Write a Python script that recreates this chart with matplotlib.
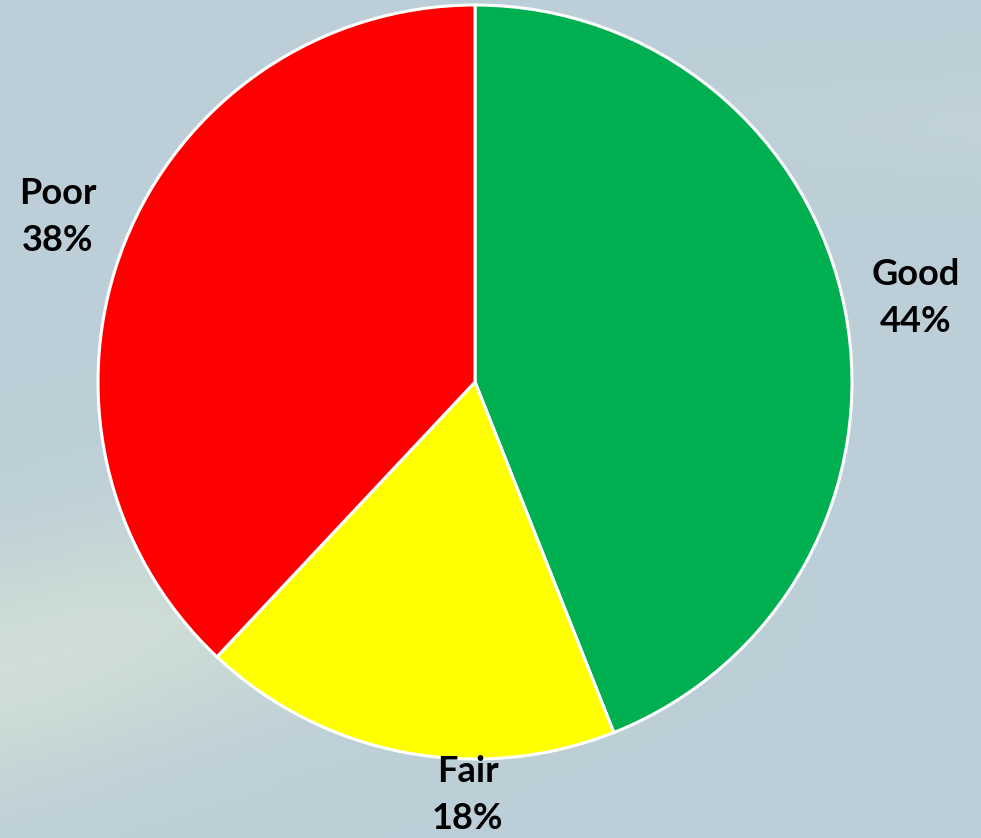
import numpy as np
import matplotlib.pyplot as plt
from matplotlib.colors import LinearSegmentedColormap

# ── Data ──────────────────────────────────────────────────────────────────────
categories = ['Good', 'Fair', 'Poor']
shares = [44, 18, 38]
colours = ['#00B050', '#FFFF00', '#FF0000']

W, H = 981, 838
fig = plt.figure(figsize=(W / 100, H / 100), dpi=100)

# ── Background: soft blue-grey with a pale streak low-left ────────────────────
bg = fig.add_axes([0, 0, 1, 1])
yy, xx = np.mgrid[0:1:200j, 0:1:240j]
streak = np.exp(-((yy - 0.80 + 0.30 * xx) ** 2) / 0.02) * np.clip(1.1 - 1.3 * xx, 0, 1)
band = np.exp(-((yy - 0.15) ** 2) / 0.003) * np.clip(xx - 0.6, 0, 1) * 0.6
field = np.clip(streak + band, 0, 1)
cmap = LinearSegmentedColormap.from_list('bg', ['#bccfd8', '#cfded6'])
bg.imshow(field, cmap=cmap, vmin=0, vmax=1, aspect='auto', extent=[0, 1, 0, 1], origin='upper')
bg.set_axis_off()

# ── Pie ───────────────────────────────────────────────────────────────────────
r_px = 377
cx, cy = 475, 382
ax = fig.add_axes([(cx - r_px) / W, (H - cy - r_px) / H, 2 * r_px / W, 2 * r_px / H])
labels = [f'{c}\n{s}%' for c, s in zip(categories, shares)]
wedges, texts = ax.pie(
    shares, colors=colours, labels=labels, startangle=90, counterclock=False,
    labeldistance=1.19, radius=1,
    wedgeprops=dict(edgecolor='white', linewidth=2.2),
    textprops=dict(fontsize=26, fontweight='bold', family='Lato', color='black',
                   linespacing=1.5, ha='center', va='center'),
)
for t in texts:
    t.set_ha('center')
    t.set_va('center')
    t.set_clip_on(False)
# Fair label sits just under the pie rather than at its mid-angle
texts[1].set_position((-0.02, -1.095))

ax.set_xlim(-1, 1)
ax.set_ylim(-1, 1)
ax.set_aspect('auto')
ax.set_axis_off()

plt.savefig('out.png', dpi=100)
